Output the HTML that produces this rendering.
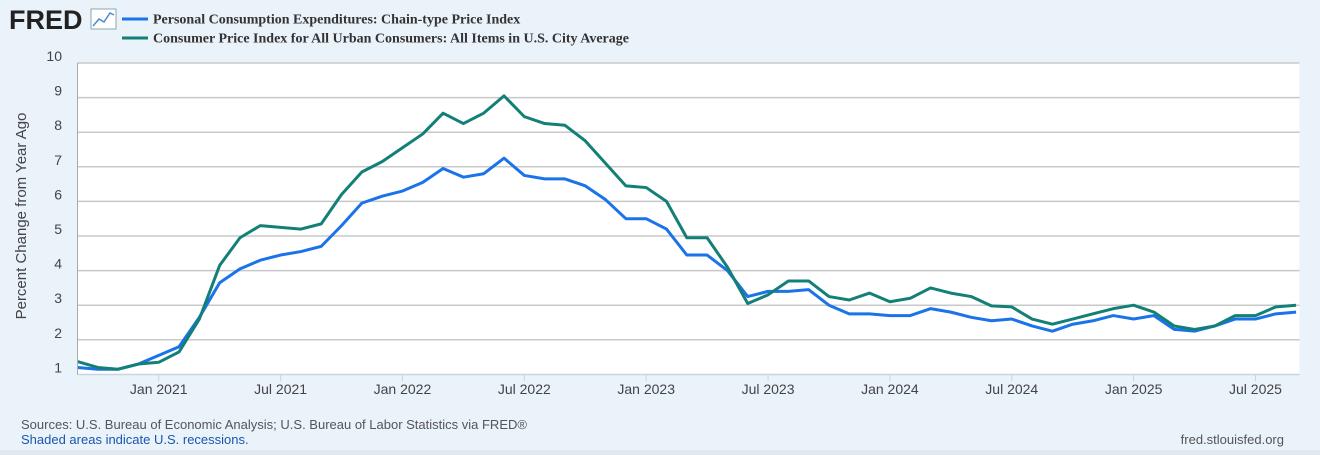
<!DOCTYPE html>
<html><head><meta charset="utf-8"><style>
body{margin:0;width:1320px;height:450px;background:#e1e9f0;overflow:hidden;font-family:"Liberation Sans",sans-serif}
#wrap{position:relative;width:1320px;height:450px;background:#eaf2fa}
</style></head><body>
<div id="wrap">
<svg id="c" width="1320" height="450" xmlns="http://www.w3.org/2000/svg">
<text x="9" y="29" font-family="Liberation Sans" font-weight="bold" font-size="27" fill="#222">FRED</text>
<g><rect x="91" y="9" width="25" height="20" fill="#fff" stroke="#8aa" stroke-width="1"/><polyline points="93,26 99,19 104,22 110,13 114,15" fill="none" stroke="#4a8bd0" stroke-width="1.5"/></g>
<g>
<line x1="122" y1="19" x2="148" y2="19" stroke="#1a73e8" stroke-width="3"/>
<text x="153" y="23.5" font-family="Liberation Serif" font-weight="bold" font-size="14" fill="#333">Personal Consumption Expenditures: Chain-type Price Index</text>
<line x1="122" y1="38" x2="148" y2="38" stroke="#138077" stroke-width="3"/>
<text x="153" y="42.5" font-family="Liberation Serif" font-weight="bold" font-size="14" fill="#333">Consumer Price Index for All Urban Consumers: All Items in U.S. City Average</text>
</g>
<rect x="77.5" y="63" width="1222" height="311" fill="#fff"/>
<g id="grid"></g><g id="series"></g><g id="axes"></g>
<text transform="translate(26,216) rotate(-90)" text-anchor="middle" font-size="15" fill="#444">Percent Change from Year Ago</text>
<text x="21" y="429" font-size="13" fill="#555">Sources: U.S. Bureau of Economic Analysis; U.S. Bureau of Labor Statistics via FRED®</text>
<text x="21" y="444" font-size="13" fill="#1a56b0">Shaded areas indicate U.S. recessions.</text>
<text x="1284" y="444" text-anchor="end" font-size="13" fill="#555">fred.stlouisfed.org</text>
</svg></div>
<script>
const yTicks=[1,2,3,4,5,6,7,8,9,10];
const xTickLabels=["Jan 2021","Jul 2021","Jan 2022","Jul 2022","Jan 2023","Jul 2023","Jan 2024","Jul 2024","Jan 2025","Jul 2025"];
const xTickMonths=[4,10,16,22,28,34,40,46,52,58];
const pce=[1.2,1.15,1.15,1.3,1.55,1.8,2.65,3.65,4.05,4.3,4.45,4.55,4.7,5.3,5.95,6.15,6.3,6.55,6.95,6.7,6.8,7.25,6.75,6.65,6.65,6.45,6.05,5.5,5.5,5.2,4.45,4.45,4.0,3.25,3.4,3.4,3.45,3.0,2.75,2.75,2.7,2.7,2.9,2.8,2.65,2.55,2.6,2.4,2.25,2.45,2.55,2.7,2.6,2.7,2.3,2.25,2.4,2.6,2.6,2.75,2.8];
const cpi=[1.37,1.2,1.15,1.3,1.35,1.65,2.6,4.15,4.95,5.3,5.25,5.2,5.35,6.2,6.85,7.15,7.55,7.95,8.55,8.25,8.55,9.05,8.45,8.25,8.2,7.75,7.1,6.45,6.4,6.0,4.95,4.95,4.1,3.05,3.3,3.7,3.7,3.25,3.15,3.35,3.1,3.2,3.5,3.35,3.25,2.98,2.95,2.6,2.45,2.6,2.75,2.9,3.0,2.8,2.4,2.3,2.4,2.7,2.7,2.95,3.0];
const NS="http://www.w3.org/2000/svg";
const X=m=>77.5+m*20.31;
const Y=v=>374.4-(v-1)*34.6;
function mk(tag,attrs,parent){const e=document.createElementNS(NS,tag);for(const k in attrs)e.setAttribute(k,attrs[k]);parent.appendChild(e);return e;}
const grid=document.getElementById('grid'),axes=document.getElementById('axes'),series=document.getElementById('series');
yTicks.forEach(v=>{
 if(v>1){const l=mk('line',{x1:77.5,x2:1299.5,y1:Y(v),y2:Y(v),stroke:'#c8c8c8','stroke-width':1.5},grid);
 
 }
 const t=mk('text',{x:62,y:Y(v)-2,'text-anchor':'end','font-size':14,fill:'#444'},axes);t.textContent=v;
 
 
});
xTickMonths.forEach((m,i)=>{
 const tk=mk('line',{x1:X(m),x2:X(m),y1:374,y2:381,stroke:'#c8d4e4'},axes);
 
 
 const t=mk('text',{x:X(m),y:394,'text-anchor':'middle','font-size':14,fill:'#444'},axes);t.textContent=xTickLabels[i];
 
 
});
const ax=mk('line',{x1:77.5,x2:1299.5,y1:374.5,y2:374.5,stroke:'#c8d4e4','stroke-width':1.5},axes);


const ay=mk('line',{x1:77.5,x2:77.5,y1:63,y2:374.5,stroke:'#aaa','stroke-width':1},axes);


const p1=mk('polyline',{points:pce.map((v,i)=>X(i)+','+Y(v)).join(' '),fill:'none',stroke:'#1a73e8','stroke-width':3,'stroke-linejoin':'round'},series);


const p2=mk('polyline',{points:cpi.map((v,i)=>X(i)+','+Y(v)).join(' '),fill:'none',stroke:'#138077','stroke-width':3,'stroke-linejoin':'round'},series);


</script>
</body></html>
